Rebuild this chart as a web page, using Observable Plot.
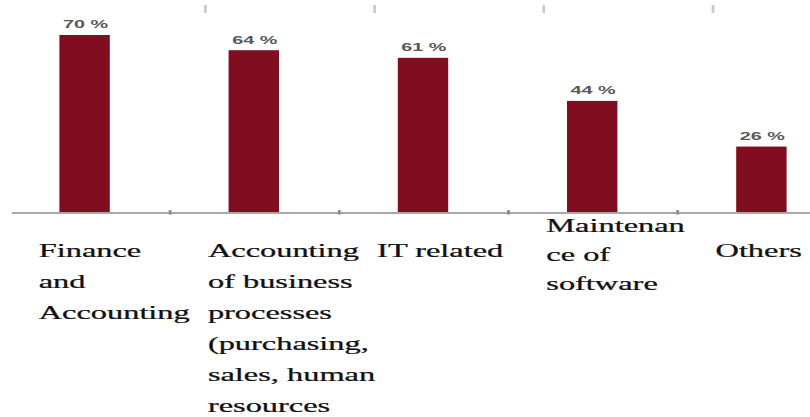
<!DOCTYPE html>
<html>
<head>
<meta charset="utf-8">
<script src="https://cdn.jsdelivr.net/npm/d3@7"></script>
<script src="https://cdn.jsdelivr.net/npm/@observablehq/plot@0.6"></script>
<style>
  html, body { margin: 0; padding: 0; background: #fff; }
  #chart svg { display: block; }
</style>
</head>
<body>
<div id="chart"></div>
<script>
// Data
const categories = ["Finance and Accounting", "Accounting of business processes", "IT related", "Maintenance of software", "Others"];
const values = [70, 64, 61, 44, 26];
const valueLabels = ["70 %", "64 %", "61 %", "44 %", "26 %"];
const axisLabels = [
  "Finance\nand\nAccounting",
  "Accounting\nof business\nprocesses\n(purchasing,\nsales, human\nresources",
  "IT related",
  "Maintenan\nce of\nsoftware",
  "Others"
];

const rows = categories.map((c, i) => ({category: c, value: values[i], label: valueLabels[i], axisLabel: axisLabels[i]}));

// Layout: the reference is horizontally stretched, so draw narrow and stretch.
const S = 1.8;
const FINAL_W = 810, H = 417;
const W = FINAL_W / S;
const xRange = [0.5 / S, 846.5 / S];
const halfStep = (xRange[1] - xRange[0]) / categories.length / 2;

const serif = '"Liberation Serif", "DejaVu Serif", serif';
const sans = '"Liberation Sans", Arial, sans-serif';
const isMaint = d => d.axisLabel.startsWith("Maintenan");

const svg = Plot.plot({
  width: W,
  height: H,
  marginTop: 0,
  marginLeft: 12 / S,
  marginRight: 0,
  marginBottom: H - 212.5,
  x: {domain: categories, range: xRange, paddingInner: 0.7, paddingOuter: 0.35, axis: null},
  y: {domain: [0, 83.8], axis: null},
  marks: [
    Plot.barY(rows, {x: "category", y: "value", fill: "#800D20"}),
    Plot.ruleY([0], {stroke: "#a8a8a8", strokeWidth: 2}),
    // small ticks between categories
    Plot.tickX(categories.slice(0, -1), {x: d => d, dx: halfStep, stroke: "#8a8a8a", strokeWidth: 1.5, insetTop: 210, insetBottom: -2}),
    // faint ticks at top
    Plot.tickX(categories.slice(1), {x: d => d, dx: -27.4, stroke: "#c8c8c8", strokeWidth: 1.5, insetTop: 5, insetBottom: 212.5 - 13}),
    Plot.text(rows, {x: "category", y: "value", text: "label", dy: -7, lineAnchor: "bottom",
      fill: "#595959", fontSize: 11, fontWeight: "bold", fontFamily: sans}),
    Plot.text(rows.filter(d => !isMaint(d)), {
      x: "category", frameAnchor: "bottom", text: "axisLabel", textAnchor: "start", lineAnchor: "top",
      dx: -26, dy: 22, lineHeight: 31 / 18, fontSize: 18, fill: "#111", stroke: "#111", strokeWidth: 0.25, fontFamily: serif
    }),
    Plot.text(rows.filter(isMaint), {
      x: "category", frameAnchor: "bottom", text: "axisLabel", textAnchor: "start", lineAnchor: "top",
      dx: -26, dy: -1.5, lineHeight: 29 / 18, fontSize: 18, fill: "#111", stroke: "#111", strokeWidth: 0.25, fontFamily: serif
    })
  ]
});

svg.setAttribute("width", FINAL_W);
svg.setAttribute("height", H);
svg.setAttribute("preserveAspectRatio", "none");
svg.style.width = FINAL_W + "px";
svg.style.height = H + "px";
svg.style.maxWidth = "none";
document.getElementById("chart").appendChild(svg);
</script>
</body>
</html>
